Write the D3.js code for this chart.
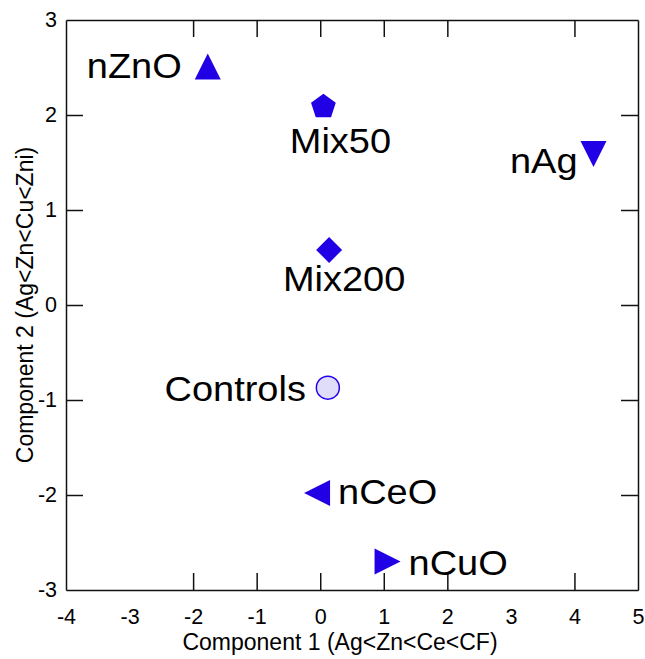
<!DOCTYPE html>
<html>
<head>
<meta charset="utf-8">
<script src="https://cdn.jsdelivr.net/npm/d3@7/dist/d3.min.js"></script>
<style>
  body { margin: 0; background: #fff; }
  svg text { font-family: Arial, 'Liberation Sans', sans-serif; fill: #000; }
</style>
</head>
<body>
<div id="chart"></div>
<script>
// sample names and PCA scores
const names = ['nZnO', 'Mix50', 'nAg', 'Mix200', 'Controls', 'nCeO', 'nCuO'];
const comp1 = [-1.77, 0.05, 4.30, 0.14, 0.12, -0.05, 1.06];
const comp2 = [2.51, 2.10, 1.59, 0.58, -0.87, -1.98, -2.70];
const shapes = ['triUp', 'pentagon', 'triDown', 'diamond', 'circle', 'triLeft', 'triRight'];

const xTicks = [-4, -3, -2, -1, 0, 1, 2, 3, 4, 5];
const yTicks = [-3, -2, -1, 0, 1, 2, 3];
const xTitle = 'Component 1 (Ag<Zn<Ce<CF)';
const yTitle = 'Component 2 (Ag<Zn<Cu<Zni)';

// label placement relative to marker (px)
const labelLayout = {
  nZnO: { anchor: 'end', dx: -26, dy: 11 },
  Mix50: { anchor: 'middle', dx: 17, dy: 47 },
  nAg: { anchor: 'end', dx: -16, dy: 19 },
  Mix200: { anchor: 'middle', dx: 15, dy: 41 },
  Controls: { anchor: 'end', dx: -22, dy: 13 },
  nCeO: { anchor: 'start', dx: 21, dy: 11 },
  nCuO: { anchor: 'start', dx: 21, dy: 13 },
};

const width = 645;
const height = 659;
const margin = { top: 20, right: 7, bottom: 69, left: 66 };
const blue = '#2200e6';
const tickLen = 17;

const svg = d3.select('#chart').append('svg')
  .attr('width', width)
  .attr('height', height);

const x = d3.scaleLinear().domain([-4, 5]).range([margin.left, width - margin.right]);
const y = d3.scaleLinear().domain([-3, 3]).range([height - margin.bottom, margin.top]);

const fmt = d => String(d); // plain hyphen minus like the original

const styleAxis = (g) => {
  g.select('.domain').attr('stroke', '#111').attr('stroke-width', 1.5);
  g.selectAll('.tick line').attr('stroke', '#111').attr('stroke-width', 1.5);
  g.selectAll('.tick text')
    .attr('font-size', 21.5)
    .attr('font-family', "Arial, 'Liberation Sans', sans-serif")
    .attr('fill', '#000');
};

svg.append('g')
  .attr('transform', `translate(0,${y(-3)})`)
  .call(d3.axisBottom(x).tickValues(xTicks).tickFormat(fmt)
    .tickSizeInner(-tickLen).tickSizeOuter(0).tickPadding(19))
  .call(styleAxis);

svg.append('g')
  .attr('transform', `translate(0,${y(3)})`)
  .call(d3.axisTop(x).tickValues(xTicks).tickFormat('')
    .tickSizeInner(-tickLen).tickSizeOuter(0))
  .call(styleAxis);

svg.append('g')
  .attr('transform', `translate(${x(-4)},0)`)
  .call(d3.axisLeft(y).tickValues(yTicks).tickFormat(fmt)
    .tickSizeInner(-tickLen).tickSizeOuter(0).tickPadding(9))
  .call(styleAxis);

svg.append('g')
  .attr('transform', `translate(${x(5)},0)`)
  .call(d3.axisRight(y).tickValues(yTicks).tickFormat('')
    .tickSizeInner(-tickLen).tickSizeOuter(0))
  .call(styleAxis);

// no tick marks at the very corners
svg.selectAll('.tick').filter(d => d === -4 || d === 5 || d === -3 || d === 3)
  .select('line').attr('stroke', 'none');

svg.append('text')
  .attr('x', (x(-4) + x(5)) / 2 - 12)
  .attr('y', 650)
  .attr('text-anchor', 'middle')
  .attr('font-size', 23)
  .text(xTitle);

svg.append('text')
  .attr('transform', `translate(33,${(y(-3) + y(3)) / 2}) rotate(-90)`)
  .attr('text-anchor', 'middle')
  .attr('font-size', 23)
  .text(yTitle);

// marker shapes, drawn around the bounding-box centre
const s = 13;
const shapePath = {
  triUp: `M0,${-s}L${s},${s}L${-s},${s}Z`,
  triDown: `M0,${s}L${s},${-s}L${-s},${-s}Z`,
  triLeft: `M${-s},0L${s},${-s}L${s},${s}Z`,
  triRight: `M${s},0L${-s},${-s}L${-s},${s}Z`,
  diamond: `M0,${-s}L${s},0L0,${s}L${-s},0Z`,
  pentagon: (() => {
    const r = 13;
    const shift = (r - r * Math.cos(Math.PI / 5)) / 2;
    const pts = d3.range(5).map((i) => {
      const a = -Math.PI / 2 + (i * 2 * Math.PI) / 5;
      return [r * Math.cos(a), r * Math.sin(a) + shift];
    });
    return `M${pts.map(p => p.join(',')).join('L')}Z`;
  })(),
};

const points = names.map((n, i) => ({
  name: n, c1: comp1[i], c2: comp2[i], shape: shapes[i],
}));

const gPts = svg.append('g');

gPts.selectAll('.marker')
  .data(points.filter(d => d.shape !== 'circle'))
  .enter().append('path')
  .attr('class', 'marker')
  .attr('transform', d => `translate(${x(d.c1)},${y(d.c2)})`)
  .attr('d', d => shapePath[d.shape])
  .attr('fill', blue);

gPts.selectAll('.circ')
  .data(points.filter(d => d.shape === 'circle'))
  .enter().append('circle')
  .attr('class', 'circ')
  .attr('cx', d => x(d.c1))
  .attr('cy', d => y(d.c2))
  .attr('r', 11.5)
  .attr('fill', '#e0ddfa')
  .attr('stroke', blue)
  .attr('stroke-width', 1.5);

gPts.selectAll('.lbl')
  .data(points)
  .enter().append('text')
  .attr('class', 'lbl')
  .attr('transform', (d) => {
    const l = labelLayout[d.name];
    return `translate(${x(d.c1) + l.dx},${y(d.c2) + l.dy}) scale(1.1,1)`;
  })
  .attr('text-anchor', d => labelLayout[d.name].anchor)
  .attr('font-size', 34.5)
  .text(d => d.name);
</script>
</body>
</html>
